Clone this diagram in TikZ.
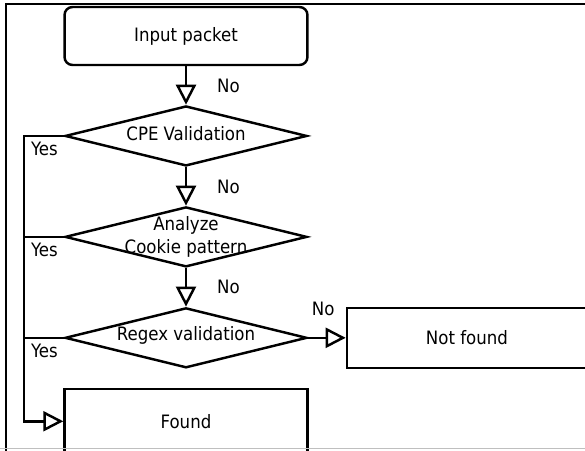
\documentclass[tikz,border=0pt]{standalone}
\usepackage{fontspec}
\setmainfont{DejaVu Sans Condensed}
\usetikzlibrary{positioning,
	shapes,
	arrows.meta}
\tikzstyle{blk}=[draw, line width=1.4pt, minimum width=4.86cm, minimum height=1.2cm, inner sep=0]
\tikzstyle{startblk}=[blk, rounded corners=1.6mm, minimum height=1.16cm]
\tikzstyle{dec}=[draw, diamond, line width=1.4pt, minimum width=4.84cm, minimum height=1.2cm, inner sep=0]
\tikzstyle{flow}=[line width=1.4pt, -{Triangle[open, length=4mm, width=4mm]}]
\tikzstyle{lnk}=[line width=1.4pt]
\tikzstyle{lbl}=[inner sep=0]

\begin{document}
\begin{tikzpicture}[x=0.02cm, y=-0.02cm, node distance=0.77cm,
        every node/.style={font=\fontsize{10.5}{12.6}\selectfont}]
        \useasboundingbox (0,0) rectangle (585,450);
        \draw[line width=1.6pt] (6,452) -- (6,4) -- (587,4);
        \coordinate (spine) at (24,0);
        \node[startblk] (in) at (186,36) {Input packet};
        \node[dec, below=of in, label={[yshift=1.5pt]center:CPE Validation}] (cpe) {};
        \node[dec, below=of cpe, label={[align=center]center:Analyze\\Cookie pattern}] (cookie) {};
        \node[dec, below=of cookie, label={[yshift=1.5pt]center:Regex validation}] (regex) {};
        \node[blk, minimum width=4.8cm, right=0.75cm of regex] (nf) {Not found};
        \node[blk, minimum height=1.3cm, below=0.37cm of regex] (found) {Found};
        \draw[flow] (in) -- node[lbl, right=6mm] {No} (cpe);
        \draw[flow] (cpe) -- node[lbl, right=6mm] {No} (cookie);
        \draw[flow] (cookie) -- node[lbl, right=6mm] {No} (regex);
        \draw[flow] (regex.east) -- (nf.west) node[lbl, above left=4.2mm and 2mm] {No};
        \draw[flow] (cpe.west) -- (cpe.west -| spine) node[lbl, below right=1mm and 1.2mm] {Yes} |- (found.west);
        \draw[lnk] (cookie.west) -- (cookie.west -| spine) node[lbl, below right=1mm and 1.2mm] {Yes};
        \draw[lnk] (regex.west) -- (regex.west -| spine) node[lbl, below right=1mm and 1.2mm] {Yes};
        \draw[gray!50, line width=1pt] (0,448.5) -- (585,448.5);
    \end{tikzpicture}
\end{document}
